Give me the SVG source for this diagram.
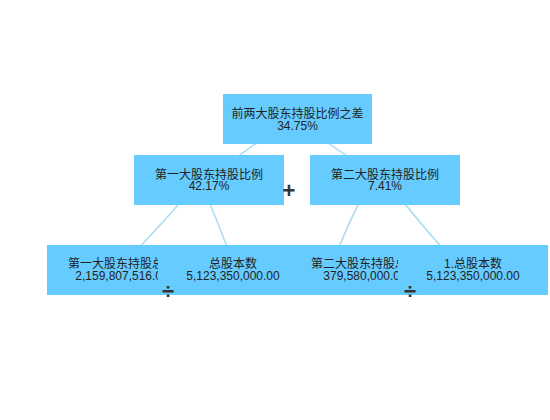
<svg xmlns="http://www.w3.org/2000/svg" width="550" height="420" viewBox="0 0 550 420">
<style>
.box{fill:#66ccff}
.t{font-family:"Liberation Sans","Noto Sans CJK SC",sans-serif;font-size:12px;fill:#222;text-anchor:middle}
.link{fill:none;stroke:#a9dcf3;stroke-width:1.5}
.op{font-family:"Liberation Sans",sans-serif;font-weight:bold;fill:#333;text-anchor:middle}
</style>
<rect width="550" height="420" fill="#fff"/>
<g id="connectors">
<path class="link" d="M297,119 Q255,140 209,180"/>
<path class="link" d="M297,119 Q320,140 385,180"/>
<path class="link" d="M200,175 C185,200 160,225 120,268"/>
<path class="link" d="M200,180 Q215,215 236,270"/>
<path class="link" d="M372,180 Q352,212 330,270"/>
<path class="link" d="M385,178 Q412,215 462,270"/>
</g>
<g id="root">
<rect class="box" x="223" y="94" width="149" height="50"/>
<text class="t" x="297.5" y="117.5">前两大股东持股比例之差</text>
<text class="t" x="297.5" y="129.5">34.75%</text>
</g>
<g id="n1">
<rect class="box" x="134" y="155" width="150" height="50"/>
<text class="t" x="209" y="178.5">第一大股东持股比例</text>
<text class="t" x="209" y="190">42.17%</text>
</g>
<g id="n2">
<rect class="box" x="310" y="155" width="150" height="50"/>
<text class="t" x="385" y="178.5">第二大股东持股比例</text>
<text class="t" x="385" y="190">7.41%</text>
</g>
<g id="n1a">
<rect class="box" x="47" y="245" width="150" height="50"/>
<text class="t" x="122" y="267.5">第一大股东持股总数</text>
<text class="t" x="122" y="280">2,159,807,516.00</text>
</g>
<g id="n1b">
<rect class="box" x="158" y="245" width="150" height="50"/>
<text class="t" x="233" y="267.5">总股本数</text>
<text class="t" x="233" y="280">5,123,350,000.00</text>
</g>
<g id="n2a">
<rect class="box" x="290" y="245" width="150" height="50"/>
<text class="t" x="365" y="267.5">第二大股东持股总数</text>
<text class="t" x="365" y="280">379,580,000.00</text>
</g>
<g id="n2b">
<rect class="box" x="398" y="245" width="150" height="50"/>
<text class="t" x="473" y="267.5">1.总股本数</text>
<text class="t" x="473" y="280">5,123,350,000.00</text>
</g>
<g id="operators">
<text class="op" x="289" y="198" font-size="22">+</text>
<text class="op" x="168" y="299" font-size="22">÷</text>
<text class="op" x="410" y="299" font-size="22">÷</text>
</g>
</svg>
